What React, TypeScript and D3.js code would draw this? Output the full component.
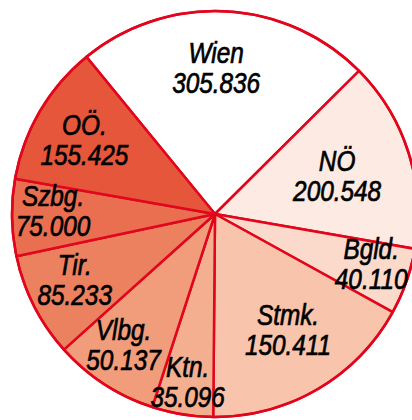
import React from 'react';
import * as d3 from "d3";

// regions, clockwise starting at Wien
const regions = ["Wien", "NÖ", "Bgld.", "Stmk.", "Ktn.", "Vlbg.", "Tir.", "Szbg.", "OÖ."];
const values = [305836, 200548, 40110, 150411, 35096, 50137, 85233, 75000, 155425];
// slice widths as drawn in the graphic (degrees), not proportional to values
const sliceDegrees = [84.5, 54.7, 19.0, 61.6, 17.5, 30.1, 29.9, 22.0, 40.7];

const fills = ["#ffffff", "#fdeae2", "#fbdacb", "#f8c4ac", "#f4af91", "#f19c7b", "#ec8160", "#ea6f51", "#e5563b"];
// label placement: distance from centre and small angle nudge (deg)
const labelRadius = [146, 128, 164, 137, 170, 160, 155, 162, 150];
const labelNudge = [-2.5, 0, -1.6, -1.9, 0, 1.8, 1.8, 2, -0.9];

const deDE = d3.formatLocale({decimal: ",", thousands: ".", grouping: [3], currency: ["", " €"]});
const fmt = deDE.format(",d");

class PieChart extends React.Component {
    private node: SVGSVGElement | null = null;

    componentDidMount(): void {
        const width = 412, height = 420;
        const cx = 215, cy = 214, radius = 203;
        const red = "#e2061c";

        const svg = d3.select(this.node)
            .attr("width", width)
            .attr("height", height);

        const g = svg.append("g")
            .attr("transform", "translate(" + cx + "," + cy + ")");

        const data = regions.map((r, i) => ({name: r, value: values[i], share: sliceDegrees[i], idx: i}));

        const startAngle = -39.3 * Math.PI / 180;
        const pie = d3.pie<any>()
            .sort(null)
            .value(d => d.share)
            .startAngle(startAngle)
            .endAngle(startAngle + 2 * Math.PI);

        const arcs = pie(data);
        const arc = d3.arc<any>().innerRadius(0).outerRadius(radius);

        g.selectAll("path.slice")
            .data(arcs)
            .enter()
            .append("path")
            .attr("class", "slice")
            .attr("d", arc)
            .attr("fill", (d: any) => fills[d.data.idx])
            .attr("stroke", red)
            .attr("stroke-width", 2.5)
            .attr("stroke-linejoin", "round");

        // outer rim
        g.append("circle")
            .attr("r", radius)
            .attr("fill", "none")
            .attr("stroke", red)
            .attr("stroke-width", 2.5);

        //labels - condensed look via horizontal squeeze
        const labels = g.selectAll("text.label")
            .data(arcs)
            .enter()
            .append("text")
            .attr("class", "label")
            .attr("transform", (d: any) => {
                const i = d.data.idx;
                const r = labelRadius[i];
                const a = (d.startAngle + d.endAngle) / 2 + labelNudge[i] * Math.PI / 180;
                const [x, y] = d3.pointRadial(a, r);
                return "translate(" + x + "," + y + ") scale(0.84,1)";
            })
            .attr("text-anchor", "middle")
            .style("font-family", "'Liberation Sans', Arial, sans-serif")
            .style("font-style", "italic")
            .style("font-size", "29px")
            .attr("fill", "#000")
            .attr("stroke", "#000")
            .attr("stroke-width", 0.7);

        labels.append("tspan")
            .attr("x", 0)
            .attr("y", -5)
            .text((d: any) => d.data.name);

        labels.append("tspan")
            .attr("x", 0)
            .attr("y", 25)
            .text((d: any) => fmt(d.data.value));
    }

    render() {
        return (
            <svg ref={n => { this.node = n; }}
                 style={{position: "absolute", left: 0, top: 0, background: "#fff"}}/>
        );
    }
}

export default function App() {
    return <PieChart/>;
}
